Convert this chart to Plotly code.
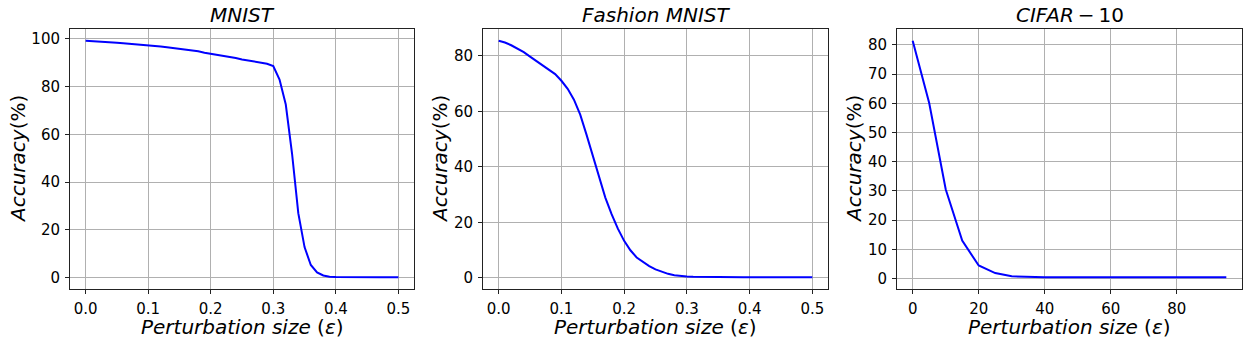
import plotly.graph_objects as go

# ---------------- data ----------------
mnist_eps = [round(i * 0.01, 2) for i in range(51)]
mnist_acc = [99.2, 99.1, 99.0, 98.8, 98.6, 98.4, 98.2, 98.0, 97.8, 97.6,
             97.4, 97.1, 96.8, 96.5, 96.2, 95.9, 95.5, 95.1, 94.8, 94.2,
             93.8, 93.4, 92.9, 92.4, 92.0, 91.4, 90.9, 90.5, 90.1, 89.6,
             88.6, 83.0, 72.5, 52.0, 27.0, 12.8, 5.3, 2.2, 0.9, 0.4,
             0.25, 0.2, 0.2, 0.2, 0.2, 0.2, 0.2, 0.2, 0.2, 0.2, 0.2]

fashion_eps = [round(i * 0.01, 2) for i in range(51)]
fashion_acc = [85.4, 84.8, 83.8, 82.7, 81.3, 79.7, 78.1, 76.5, 74.8, 73.4,
               71.0, 68.1, 64.2, 58.8, 51.6, 44.2, 36.0, 28.9, 22.9, 17.7,
               13.3, 9.9, 7.3, 5.7, 4.2, 3.0, 2.2, 1.4, 0.9, 0.6,
               0.45, 0.35, 0.3, 0.25, 0.2, 0.2, 0.2, 0.2, 0.2, 0.2,
               0.2, 0.2, 0.2, 0.2, 0.2, 0.2, 0.2, 0.2, 0.2, 0.2, 0.2]

cifar_eps = [0, 5, 10, 15, 20, 25, 30, 35, 40, 45, 50, 55, 60, 65, 70, 75, 80, 85, 90, 95]
cifar_acc = [81.4, 60.1, 30.6, 13.0, 4.5, 1.9, 0.8, 0.6, 0.5, 0.5,
             0.5, 0.5, 0.5, 0.5, 0.5, 0.5, 0.5, 0.5, 0.5, 0.5]

titles = ["<i>MNIST</i>", "<i>Fashion MNIST</i>", "<i>CIFAR</i>\u2009−\u200910"]
xlabel = "<i>Perturbation size</i> (<i>ε</i>)"
ylabel = "<i>Accuracy</i>(%)"

# ---------------- layout ----------------
W, H = 1252, 343
FONT = "DejaVu Sans"
px_x = [(70, 414), (483, 828), (897, 1242)]
top_px, bot_px = 29, 289
ydom = [1 - bot_px / H, 1 - top_px / H]
ytitle_x = [18, 440, 854]


def pad(vals):
    lo, hi = min(vals), max(vals)
    m = 0.05 * (hi - lo)
    return [lo - m, hi + m]


series = [(mnist_eps, mnist_acc), (fashion_eps, fashion_acc), (cifar_eps, cifar_acc)]
xdticks = [0.1, 0.1, 20]
xfmt = [".1f", ".1f", "d"]
ydticks = [20, 20, 10]

fig = go.Figure()
annotations = []
layout = dict(
    width=W, height=H,
    margin=dict(l=0, r=0, t=0, b=0, pad=0, autoexpand=False),
    paper_bgcolor="white", plot_bgcolor="white",
    showlegend=False,
    font=dict(family=FONT, size=15, color="black"),
)

for i, (xs, ys) in enumerate(series):
    n = "" if i == 0 else str(i + 1)
    fig.add_trace(go.Scatter(x=xs, y=ys, mode="lines",
                             line=dict(color="#0000ff", width=2),
                             xaxis="x" + n, yaxis="y" + n, hoverinfo="skip"))
    x0, x1 = px_x[i]
    common = dict(showline=True, linecolor="#222222", linewidth=1, mirror=True,
                  ticks="outside", ticklen=4, tickwidth=1, tickcolor="#222222",
                  showgrid=True, gridcolor="#b0b0b0", gridwidth=1, zeroline=False,
                  automargin=False,
                  tickfont=dict(family=FONT, size=15, color="black"))
    layout["xaxis" + n] = dict(common, domain=[x0 / W, x1 / W], anchor="y" + n,
                               range=pad(xs), dtick=xdticks[i], tick0=0,
                               tickformat=xfmt[i], ticklabelstandoff=2)
    layout["yaxis" + n] = dict(common, domain=ydom, anchor="x" + n,
                               range=pad(ys), dtick=ydticks[i], tick0=0,
                               ticklabelstandoff=2)
    cx = (x0 + x1) / 2 / W
    annotations.append(dict(text=titles[i], x=cx, y=1 - 15 / H, xref="paper", yref="paper",
                            showarrow=False, xanchor="center", yanchor="middle",
                            font=dict(family=FONT, size=20, color="black")))
    annotations.append(dict(text=xlabel, x=cx, y=1 - 327 / H, xref="paper", yref="paper",
                            showarrow=False, xanchor="center", yanchor="middle",
                            font=dict(family=FONT, size=20, color="black")))
    annotations.append(dict(text=ylabel, x=ytitle_x[i] / W, y=1 - 159 / H, xref="paper",
                            yref="paper", showarrow=False, textangle=-90,
                            xanchor="center", yanchor="middle",
                            font=dict(family=FONT, size=20, color="black")))

layout["annotations"] = annotations
fig.update_layout(**layout)
fig.write_html("out.html", config={"displayModeBar": False},
               post_script="document.body.style.margin='0';document.body.style.overflow='hidden';")
